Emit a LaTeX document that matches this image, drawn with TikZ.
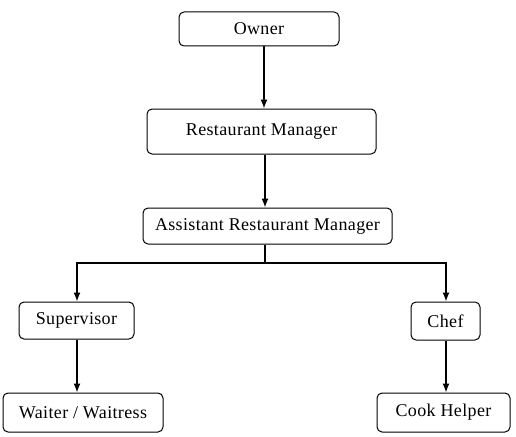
\documentclass[tikz,border=0pt]{standalone}
\usepackage{fontspec}
\setmainfont{Liberation Serif}[LetterSpace=2]
\usetikzlibrary{arrows.meta}
\begin{document}
\begin{tikzpicture}[x=1pt,y=-1pt,
  box/.style={draw,line width=1pt,rounded corners=5pt,inner sep=0pt,
    font=\fontsize{18}{20}\selectfont},
  link/.style={line width=1.3pt,-{Latex[length=9pt,width=7pt]}},
  plain/.style={line width=1.3pt}]
\useasboundingbox (0,0) rectangle (516,436);
\node[box,minimum width=160pt,minimum height=34pt] (own) at (259,29) {Owner};
\node[box,minimum width=229pt,minimum height=45pt] (rm) at (261.5,131.5) {Restaurant Manager};
\node[box,minimum width=249pt,minimum height=36pt] (arm) at (267.5,226) {Assistant Restaurant Manager};
\node[box,minimum width=115pt,minimum height=37pt] (sup) at (76.5,320.5) {Supervisor};
\node[box,minimum width=69pt,minimum height=38pt] (chef) at (445.5,321) {Chef};
\node[box,minimum width=160pt,minimum height=39pt] (wait) at (83,412.5) {Waiter / Waitress};
\node[box,minimum width=133pt,minimum height=39pt] (cook) at (443.5,412.5) {Cook Helper};
\coordinate (bus) at (265,263);
\draw[link] ([xshift=5pt]own.south) -- ([xshift=5pt]own.south |- rm.north);
\draw[link] ([xshift=3.5pt]rm.south) -- ([xshift=3.5pt]rm.south |- arm.north);
\draw[plain] ([xshift=-2.5pt]arm.south) -- (bus);
\draw[link] (bus) -| ([xshift=0.5pt]sup.north);
\draw[link] (bus) -| ([xshift=0.5pt]chef.north);
\draw[link] ([xshift=0.5pt]sup.south) -- ([xshift=0.5pt]sup.south |- wait.north);
\draw[link] ([xshift=0.5pt]chef.south) -- ([xshift=0.5pt]chef.south |- cook.north);
\end{tikzpicture}
\end{document}
